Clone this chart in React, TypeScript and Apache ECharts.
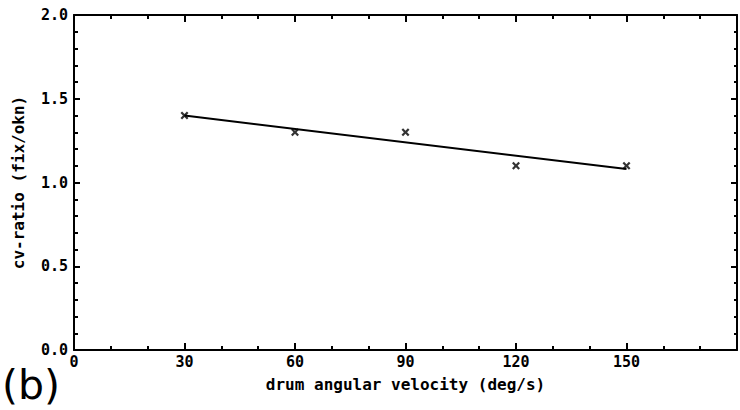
import React, { useEffect, useRef } from "react";
import * as echarts from "echarts";

const velocities = [30, 60, 90, 120, 150];
const cvRatios = [1.4, 1.3, 1.3, 1.1, 1.1];
const fitX = [30, 150];
const fitY = [1.4, 1.08];
const xTitle = "drum angular velocity (deg/s)";
const yTitle = "cv-ratio (fix/okn)";
const panelLabel = "(b)";

const MONO = "'DejaVu Sans Mono', 'Liberation Mono', monospace";
const CROSS =
  "path://M0,2 L2,0 L5,3 L8,0 L10,2 L7,5 L10,8 L8,10 L5,7 L2,10 L0,8 L3,5 Z";

export default function App() {
  const ref = useRef<HTMLDivElement>(null);
  useEffect(() => {
    document.body.style.margin = "0";
    const chart = echarts.init(ref.current!, null, { renderer: "svg" });
    const axisLine = { show: true, onZero: false, lineStyle: { color: "#000", width: 2 } };
    const labelStyle = {
      color: "#000",
      fontFamily: MONO,
      fontWeight: "bold" as const,
      fontSize: 15,
    };
    const titleStyle = { ...labelStyle, fontSize: 16 };
    chart.setOption({
      animation: false,
      backgroundColor: "#fff",
      grid: { left: 74, top: 15, width: 667, height: 335 },
      xAxis: [
        {
          type: "value",
          min: 0,
          max: 180,
          interval: 30,
          position: "bottom",
          axisLine,
          axisTick: { show: true, inside: true, length: 7, lineStyle: { color: "#000", width: 2 } },
          minorTick: { show: true, splitNumber: 3, length: 4, lineStyle: { color: "#000", width: 2 } },
          splitLine: { show: false },
          axisLabel: {
            ...labelStyle,
            margin: 4,
            formatter: (v: number) => (v >= 180 ? "" : String(v)),
          },
          name: xTitle,
          nameLocation: "middle",
          nameGap: 26,
          nameTextStyle: { ...titleStyle },
        },
        {
          type: "value",
          min: 0,
          max: 180,
          interval: 30,
          position: "top",
          axisLine,
          axisTick: { show: true, inside: true, length: 7, lineStyle: { color: "#000", width: 2 } },
          minorTick: { show: true, splitNumber: 3, length: 4, lineStyle: { color: "#000", width: 2 } },
          splitLine: { show: false },
          axisLabel: { show: false },
        },
      ],
      yAxis: [
        {
          type: "value",
          min: 0,
          max: 2,
          interval: 0.5,
          position: "left",
          axisLine,
          axisTick: { show: true, inside: true, length: 6, lineStyle: { color: "#000", width: 2 } },
          minorTick: { show: true, splitNumber: 5, length: 4, lineStyle: { color: "#000", width: 2 } },
          splitLine: { show: false },
          axisLabel: { ...labelStyle, margin: 6, formatter: (v: number) => v.toFixed(1) },
          name: yTitle,
          nameLocation: "middle",
          nameGap: 48,
          nameTextStyle: { ...titleStyle },
        },
        {
          type: "value",
          min: 0,
          max: 2,
          interval: 0.5,
          position: "right",
          axisLine,
          axisTick: { show: true, inside: true, length: 6, lineStyle: { color: "#000", width: 2 } },
          minorTick: { show: true, splitNumber: 5, length: 3, lineStyle: { color: "#000", width: 2 } },
          splitLine: { show: false },
          axisLabel: { show: false },
        },
      ],
      graphic: [
        {
          type: "text",
          left: 2,
          top: 364,
          style: {
            text: panelLabel,
            fontSize: 41,
            fontFamily: "'DejaVu Sans', sans-serif",
            fill: "#000",
          },
        },
      ],
      series: [
        {
          type: "line",
          data: fitX.map((x, i) => [x, fitY[i]]),
          showSymbol: false,
          symbol: "none",
          lineStyle: { color: "#000", width: 2 },
          silent: true,
        },
        {
          type: "scatter",
          data: velocities.map((x, i) => [x, cvRatios[i]]),
          symbol: CROSS,
          symbolSize: 8,
          itemStyle: { color: "#000" },
        },
      ],
    });
    return () => chart.dispose();
  }, []);
  return <div ref={ref} style={{ width: 740, height: 410 }} />;
}
